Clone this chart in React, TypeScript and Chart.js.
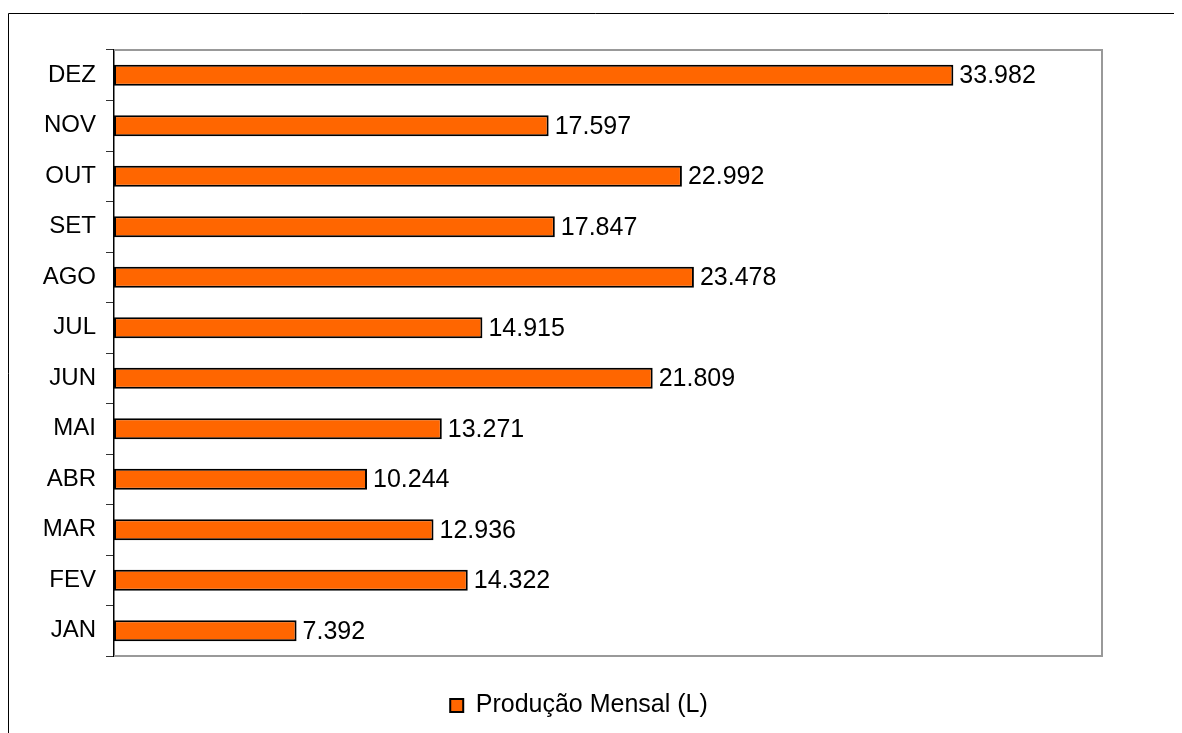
import React, { useEffect, useRef } from "react";
import { Chart, registerables } from "chart.js";

Chart.register(...registerables);

const months = ["JAN", "FEV", "MAR", "ABR", "MAI", "JUN", "JUL", "AGO", "SET", "OUT", "NOV", "DEZ"];
const production = [7392, 14322, 12936, 10244, 13271, 21809, 14915, 23478, 17847, 22992, 17597, 33982];
const seriesLabel = "Produção Mensal (L)";
const xMin = 0;
const xMax = 40000;

const FONT = "'Liberation Sans', Arial, sans-serif";

const fmt = (n: number) => String(n).replace(/\B(?=(\d{3})+(?!\d))/g, ".");

const framePlugin = {
  id: "frame",
  afterLayout(chart: any) {
    const l = chart.legend;
    if (l) {
      l.left += 24;
      l.right += 24;
    }
  },
  beforeDraw(chart: any) {
    const { ctx } = chart;
    ctx.save();
    ctx.fillStyle = "#ffffff";
    ctx.fillRect(0, 0, chart.width, chart.height);
    ctx.strokeStyle = "#000000";
    ctx.lineWidth = 1;
    ctx.beginPath();
    ctx.moveTo(0.5, chart.height);
    ctx.lineTo(0.5, 5.5);
    ctx.lineTo(chart.width, 5.5);
    ctx.stroke();
    ctx.restore();
  },
  beforeDatasetsDraw(chart: any) {
    const { ctx, chartArea: a } = chart;
    ctx.save();
    ctx.strokeStyle = "#999999";
    ctx.lineWidth = 2;
    ctx.beginPath();
    ctx.moveTo(a.left, a.top);
    ctx.lineTo(a.right, a.top);
    ctx.lineTo(a.right, a.bottom);
    ctx.lineTo(a.left, a.bottom);
    ctx.stroke();
    ctx.restore();
  },
  afterDatasetsDraw(chart: any) {
    const { ctx } = chart;
    const meta = chart.getDatasetMeta(0);
    const data = chart.data.datasets[0].data as number[];
    ctx.save();
    ctx.fillStyle = "#000000";
    ctx.font = `25px ${FONT}`;
    ctx.textAlign = "left";
    ctx.textBaseline = "middle";
    meta.data.forEach((bar: any, i: number) => {
      ctx.fillText(fmt(data[i]), bar.x + 6, bar.y + 1);
    });
    ctx.restore();
  },
};

export default function App() {
  const ref = useRef<HTMLCanvasElement | null>(null);

  useEffect(() => {
    if (!ref.current) return;
    const chart = new Chart(ref.current, {
      type: "bar",
      data: {
        labels: months,
        datasets: [
          {
            label: seriesLabel,
            data: production,
            backgroundColor: "#FF6600",
            borderColor: "#000000",
            borderWidth: 2,
            borderSkipped: false,
            barPercentage: 0.42,
            categoryPercentage: 1,
          },
        ],
      },
      options: {
        indexAxis: "y",
        responsive: false,
        animation: false,
        layout: { padding: { left: 0, top: 42, right: 80, bottom: 5 } },
        scales: {
          x: {
            min: xMin,
            max: xMax,
            display: true,
            grid: { display: false },
            border: { display: false },
            ticks: { display: false },
            afterFit: (scale: any) => {
              scale.height = 27;
            },
          },
          y: {
            reverse: true,
            grid: {
              display: true,
              offset: true,
              drawOnChartArea: false,
              drawTicks: true,
              tickLength: 8,
              color: "#333333",
              lineWidth: 1,
            },
            border: { display: true, color: "#000000", width: 1.5 },
            ticks: {
              color: "#000000",
              font: { family: FONT, size: 24 },
              padding: 10,
            },
            afterFit: (scale: any) => {
              scale.width = 106;
            },
          },
        },
        plugins: {
          legend: {
            display: true,
            position: "bottom",
            labels: {
              color: "#000000",
              font: { family: FONT, size: 25 },
              boxWidth: 13,
              boxHeight: 13,
              padding: 10,
            },
          },
          tooltip: { enabled: false },
        },
      },
      plugins: [framePlugin],
    } as any);
    return () => chart.destroy();
  }, []);

  return (
    <div style={{ width: 1174, height: 725 }}>
      <canvas ref={ref} width={1174} height={725} style={{ display: "block" }} />
    </div>
  );
}
